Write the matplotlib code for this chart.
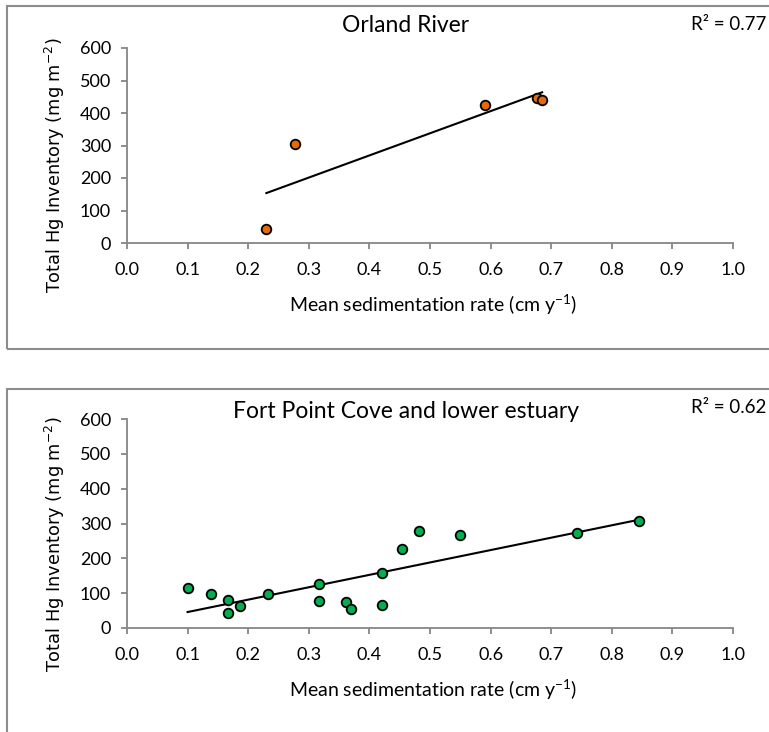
import numpy as np
import matplotlib.pyplot as plt
from matplotlib.patches import Rectangle

# Orland River
orland_rate = [0.230, 0.277, 0.590, 0.677, 0.685]
orland_hg = [42, 304, 426, 447, 441]
orland_r2 = 0.77

# Fort Point Cove and lower estuary
fpc_rate = [0.100, 0.139, 0.167, 0.167, 0.187, 0.233, 0.317, 0.317, 0.361,
            0.369, 0.420, 0.420, 0.453, 0.482, 0.549, 0.742, 0.845]
fpc_hg = [115, 99, 79, 43, 62, 97, 126, 77, 74, 55, 159, 65, 228, 278, 268,
          273, 306]
fpc_r2 = 0.62

x_ticks = np.arange(0, 1.01, 0.1)
y_ticks = np.arange(0, 601, 100)

plt.rcParams['font.family'] = ['Lato', 'DejaVu Sans']
plt.rcParams['mathtext.default'] = 'regular'

fig = plt.figure(figsize=(7.69, 7.32), dpi=100)
W, H = 769, 732

# chart-area borders
fig.patches.append(Rectangle((7 / W, 1 - 349 / H), 1.0, (349 - 6) / H,
                             transform=fig.transFigure, fill=False,
                             edgecolor='#8c8c8c', linewidth=1.5))
fig.patches.append(Rectangle((7 / W, -0.05), 1.0, 0.05 + 1 - 389 / H,
                             transform=fig.transFigure, fill=False,
                             edgecolor='#8c8c8c', linewidth=1.5))


def panel(rect, x, y, r2, color, title, title_y, r2_y, xlabel_y):
    ax = fig.add_axes(rect)
    x = np.array(x)
    y = np.array(y)
    ax.scatter(x, y, s=48, color=color, edgecolors='black', linewidths=1.3,
               zorder=3)
    slope, intercept = np.polyfit(x, y, 1)
    xs = np.array([x.min(), x.max()])
    ax.plot(xs, slope * xs + intercept, color='black', linewidth=1.5, zorder=2)

    ax.set_xlim(0, 1.0)
    ax.set_ylim(0, 600)
    ax.set_xticks(x_ticks)
    ax.set_xticklabels([f'{v:.1f}' for v in x_ticks])
    ax.set_yticks(y_ticks)
    for s in ['top', 'right']:
        ax.spines[s].set_visible(False)
    for s in ['left', 'bottom']:
        ax.spines[s].set_color('#868686')
        ax.spines[s].set_linewidth(1.3)
    ax.tick_params(axis='x', direction='out', length=4, width=1.3,
                   color='#868686', labelsize=13, pad=10)
    ax.tick_params(axis='y', direction='out', length=4.5, width=1.3,
                   color='#868686', labelsize=13, pad=7)
    ax.set_ylabel('Total Hg Inventory (mg m$^{-2}$)', family='DejaVu Sans',
                  fontsize=12.8, va='center')
    ax.yaxis.set_label_coords(-0.119, 0.40)

    fig.text(0.528, 1 - title_y / H, title, ha='center', va='center',
             fontsize=16.5)
    fig.text(0.899, 1 - r2_y / H, f'R\u00b2 = {r2:.2f}', ha='left',
             va='center', fontsize=13.5)
    fig.text(0.563, 1 - xlabel_y / H, 'Mean sedimentation rate (cm y$^{-1}$)',
             ha='center', va='center', fontsize=14)
    return ax


panel([127 / W, 1 - 243 / H, 606 / W, 195 / H], orland_rate, orland_hg,
      orland_r2, '#e36c09', 'Orland River', 26, 24, 305)
panel([127 / W, 1 - 628 / H, 606 / W, 209 / H], fpc_rate, fpc_hg,
      fpc_r2, '#00b050', 'Fort Point Cove and lower estuary', 411, 408, 690)

fig.savefig('out.png', dpi=100)
